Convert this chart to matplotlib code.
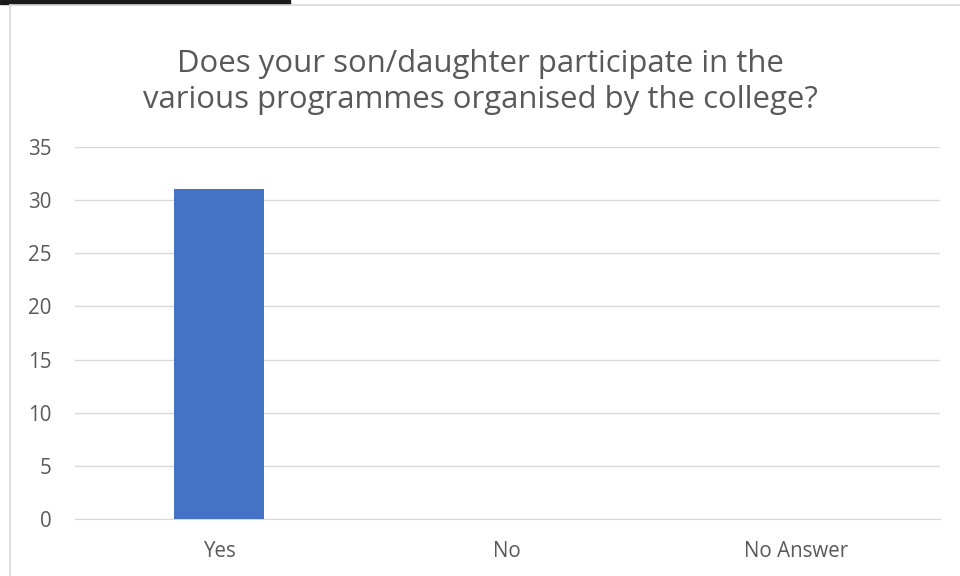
import matplotlib
matplotlib.use("Agg")
import matplotlib.pyplot as plt
from matplotlib.patches import Rectangle
from matplotlib.lines import Line2D

categories = ["Yes", "No", "No Answer"]
responses = [31, 0, 0]
y_ticks = [0, 5, 10, 15, 20, 25, 30, 35]
title = "Does your son/daughter participate in the\nvarious programmes organised by the college?"

plt.rcParams["font.family"] = ["Open Sans", "DejaVu Sans"]
grey_text = "#595959"

fig = plt.figure(figsize=(9.6, 5.76), dpi=100)
ax = fig.add_axes([0.078, 0.099, 0.901, 0.646])

x = range(len(categories))
ax.bar(x, responses, width=0.315, color="#4472c4", zorder=3)

ax.set_xlim(-0.5, 2.5)
ax.set_ylim(0, 35)
ax.set_yticks(y_ticks)
ax.set_xticks(list(x))
ax.set_xticklabels(categories)
ax.tick_params(length=0, colors=grey_text, labelsize=14.8)
ax.tick_params(axis="x", pad=16)
ax.tick_params(axis="y", pad=17)
ax.grid(axis="y", color="#d9d9d9", linewidth=1, zorder=0)
for side in ["top", "right", "left"]:
    ax.spines[side].set_visible(False)
ax.spines["bottom"].set_color("#d9d9d9")

fig.text(0.5, 0.857, title, ha="center", va="center", fontsize=22.4,
         color=grey_text, linespacing=1.25)

# chart frame (cropped) and the black strip at the top
fig.add_artist(Line2D([10 / 960, 10 / 960], [0, 1 - 5 / 576], color="#d9d9d9", lw=1.2))
fig.add_artist(Line2D([10 / 960, 1], [1 - 5 / 576, 1 - 5 / 576], color="#d9d9d9", lw=1.2))
fig.add_artist(Rectangle((0, 1 - 4 / 576), 290 / 960, 4 / 576, color="#1a1a1a",
                         transform=fig.transFigure))

fig.savefig("out.png", dpi=100)
